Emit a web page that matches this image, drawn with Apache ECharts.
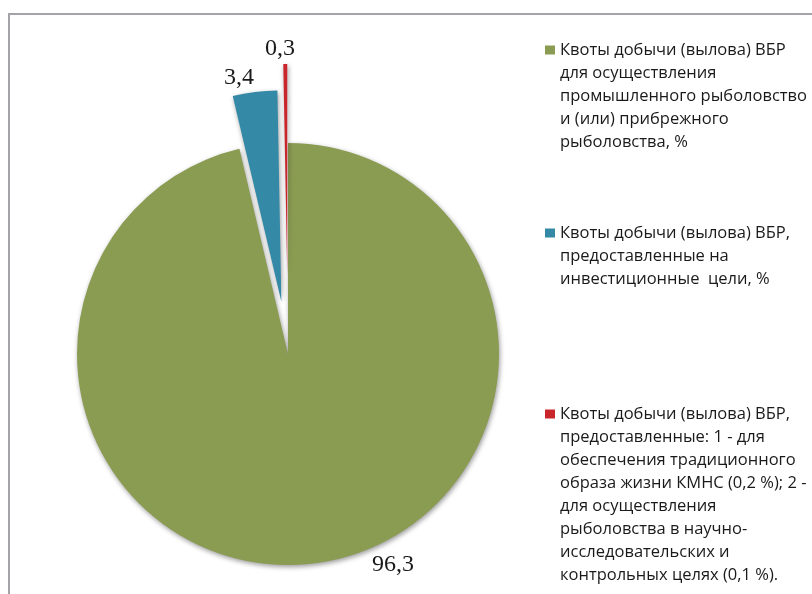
<!DOCTYPE html>
<html>
<head>
<meta charset="utf-8">
<script src="https://cdn.jsdelivr.net/npm/echarts@6/dist/echarts.min.js"></script>
<style>
  html, body { margin: 0; background: #fff; }
  #main { width: 812px; height: 594px; }
</style>
</head>
<body>
<div id="main"></div>
<script>
// slice names (full text) and how they wrap in the legend
const categories = [
  "Квоты добычи (вылова) ВБР для осуществления промышленного рыболовство и (или) прибрежного рыболовства, %",
  "Квоты добычи (вылова) ВБР, предоставленные на инвестиционные цели, %",
  "Квоты добычи (вылова) ВБР, предоставленные: 1 - для обеспечения традиционного образа жизни КМНС (0,2 %); 2 - для осуществления рыболовства в научно-исследовательских и контрольных целях (0,1 %)."
];
const legendLines = [
  ["Квоты добычи (вылова) ВБР", "для осуществления", "промышленного рыболовство", "и (или) прибрежного", "рыболовства, %"],
  ["Квоты добычи (вылова) ВБР,", "предоставленные на", "инвестиционные  цели, %"],
  ["Квоты добычи (вылова) ВБР,", "предоставленные: 1 - для", "обеспечения традиционного", "образа жизни КМНС (0,2 %); 2 -",
   "для осуществления", "рыболовства в научно-", "исследовательских и", "контрольных целях (0,1 %)."]
];
const values = [96.3, 3.4, 0.3];
const valueLabels = ["96,3", "3,4", "0,3"];
const colors = ["#8a9b52", "#3389a6", "#c9262c"];

// layout bits
const labelSpots = [[393, 565], [239, 78], [280, 49]];
const explode = [0, 53, 79]; // how far each slice is pulled out
const legendFirstLine = [50, 233, 414];
const center = [288, 354];
const radius = 211;
const lineH = 23;

const myChart = echarts.init(document.getElementById("main"));

const shadow = {
  shadowBlur: 5,
  shadowColor: "rgba(0,0,0,0.4)",
  shadowOffsetX: 1,
  shadowOffsetY: 2
};

// each slice gets its own pie series (the others transparent) so it can be
// pulled out along its middle angle by its own distance
const total = values.reduce((a, b) => a + b, 0);
let acc = 0;
const sliceSeries = values.map((v, k) => {
  const mid = ((acc + v / 2) / total) * 2 * Math.PI; // clockwise from 12 o'clock
  acc += v;
  const c = [center[0] + Math.sin(mid) * explode[k], center[1] - Math.cos(mid) * explode[k]];
  return {
    type: "pie",
    center: c,
    radius: radius,
    avoidLabelOverlap: false,
    silent: k > 0,
    emphasis: { disabled: true },
    label: {
      show: true,
      position: "outside",
      formatter: (p) => valueLabels[p.dataIndex],
      fontFamily: "Liberation Serif",
      fontSize: 24,
      color: "#1a1a1a"
    },
    labelLine: { show: false },
    labelLayout: (p) => ({
      x: labelSpots[p.dataIndex][0],
      y: labelSpots[p.dataIndex][1],
      align: "center",
      verticalAlign: "middle"
    }),
    data: values.map((w, i) => ({
      name: categories[i],
      value: w,
      itemStyle: i === k ? Object.assign({ color: colors[i] }, shadow) : { color: "transparent" },
      label: { show: i === k }
    }))
  };
});

const option = {
  animation: false,
  graphic: [
    {
      type: "rect",
      shape: { x: 9, y: 14, width: 830, height: 620 },
      style: { fill: "none", stroke: "#a3a3a8", lineWidth: 2 },
      silent: true
    }
  ],
  // one legend per item; blank lines before the text keep the marker
  // level with the first line (legend text is centred on its marker)
  legend: legendLines.map((lines, i) => ({
    data: [{ name: categories[i], itemStyle: { color: colors[i] } }],
    orient: "vertical",
    left: 545,
    top: legendFirstLine[i] - lineH / 2 - (lines.length - 1) * lineH,
    padding: 0,
    icon: "rect",
    itemWidth: 10,
    itemHeight: 9,
    selectedMode: false,
    formatter: () => "\n".repeat(lines.length - 1) + lines.join("\n"),
    textStyle: {
      fontFamily: "Open Sans",
      fontSize: 16.5,
      lineHeight: lineH,
      color: "#1a1a1a"
    }
  })),
  series: sliceSeries
};

myChart.setOption(option);
</script>
</body>
</html>
